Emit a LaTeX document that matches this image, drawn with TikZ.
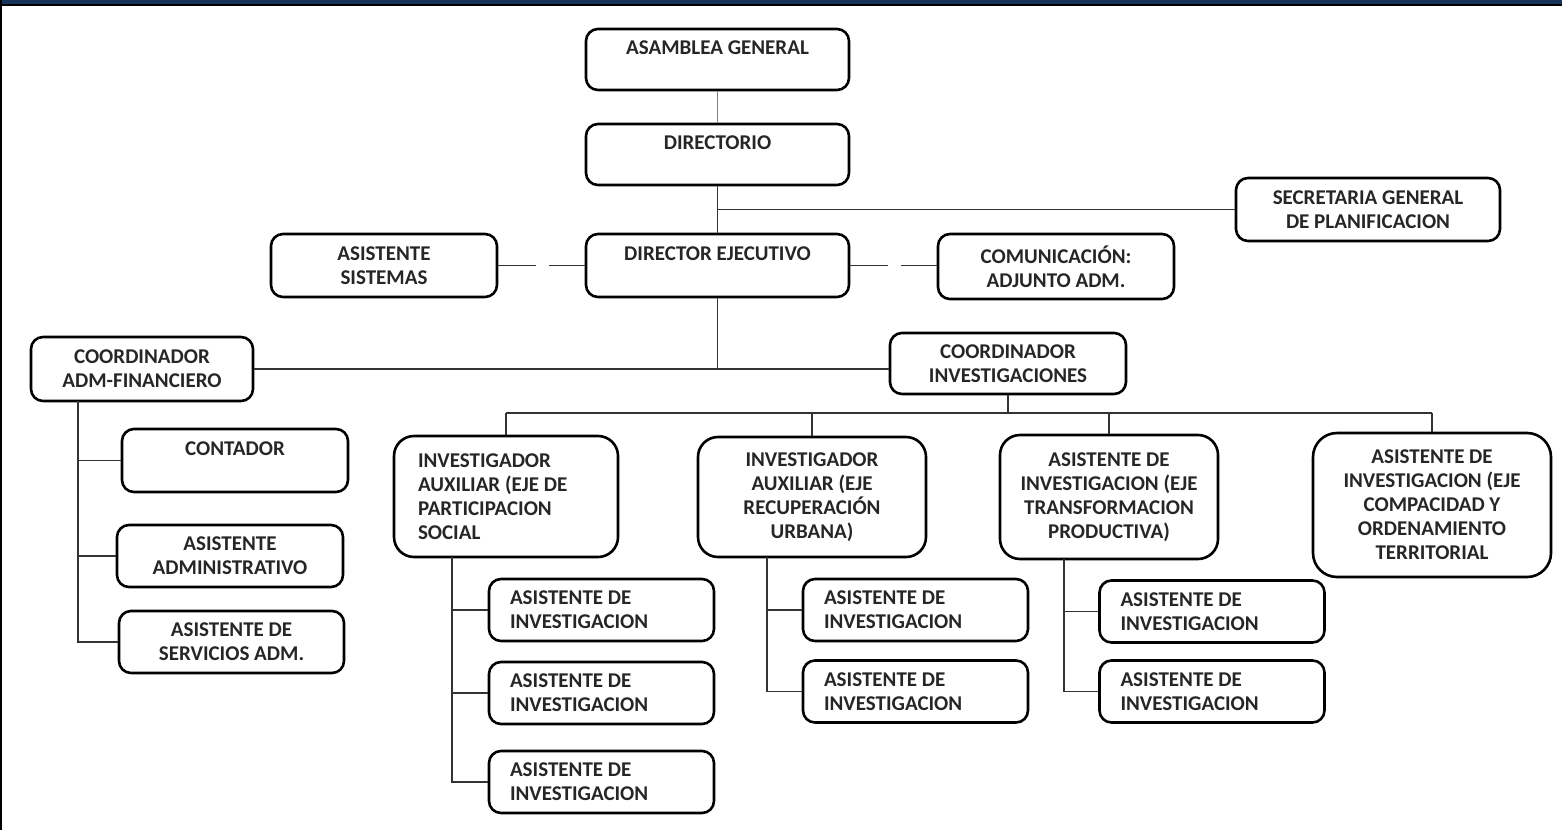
\documentclass[tikz,border=0pt]{standalone}
\usepackage{fontspec}
\newfontfamily\calibri{Carlito}
\definecolor{barra}{HTML}{17335A}
\definecolor{linea}{HTML}{333333}
\tikzset{
	caja/.style={draw, line width=1.3pt, rounded corners=6pt, align=center, inner sep=0pt,
		font=\calibri\bfseries\fontsize{10.5pt}{12pt}\selectfont, text=black!85},
	sub/.style={caja, align=flush left, inner xsep=10.5pt, text width=91.5pt, minimum height=31pt},
	une/.style={draw=linea, line width=0.8pt},
	guion/.style={une, dash pattern=on 19pt off 6.5pt}
}
\begin{document}
\begin{tikzpicture}[x=0.5pt, y=-0.5pt]
	\useasboundingbox (0,0) rectangle (1562,830);
	\fill[barra] (0,0) rectangle (1562,4);
	\fill[black] (0,4) rectangle (1562,6);
	\fill[black] (0,0) rectangle (2,830);

	\node (asam) at (717.5,59.5) [caja, minimum width=131.5pt, minimum height=30.5pt] {ASAMBLEA GENERAL\\ \mbox{}};
	\node (dirio) at (717.5,154.5) [caja, minimum width=131.5pt, minimum height=30.5pt] {DIRECTORIO\\ \mbox{}}
		edge [une, draw=gray] (asam);
	\node (secre) at (1368,209.5) [caja, minimum width=132pt, minimum height=31.5pt] {SECRETARIA GENERAL\\DE PLANIFICACION};
	\node (dire) at (717.5,265.5) [caja, minimum width=131.5pt, minimum height=31.5pt] {DIRECTOR EJECUTIVO\\ \mbox{}}
		edge [une] (dirio);
	\node (asis) at (384,265.5) [caja, minimum width=113pt, minimum height=31.5pt] {ASISTENTE\\SISTEMAS}
		edge [guion] (dire);
	\node (comu) at (1056,266.5) [caja, minimum width=118pt, minimum height=32.5pt] {COMUNICACIÓN:\\ADJUNTO ADM.};
	\node (cadm) at (142,369) [caja, minimum width=111pt, minimum height=32pt] {COORDINADOR\\ADM-FINANCIERO};
	\node (cinv) at (1008,363.5) [caja, minimum width=118pt, minimum height=30.5pt] {COORDINADOR\\INVESTIGACIONES};

	\node (conta) at (235,460.5) [caja, minimum width=113pt, minimum height=31.5pt] {CONTADOR\\ \mbox{}};
	\node (aadm) at (230,556) [caja, minimum width=113pt, minimum height=31pt] {ASISTENTE\\ADMINISTRATIVO};
	\node (aserv) at (231.5,642) [caja, minimum width=112.5pt, minimum height=31pt] {ASISTENTE DE\\SERVICIOS ADM.};

	\node (ipar) at (506,496.5) [caja, rounded corners=10pt, align=flush left, inner xsep=12pt, text width=88pt, minimum height=60.5pt] {INVESTIGADOR\\AUXILIAR (EJE DE\\PARTICIPACION\\SOCIAL};
	\node (irec) at (812,497) [caja, rounded corners=10pt, minimum width=114pt, minimum height=60pt] {INVESTIGADOR\\AUXILIAR (EJE\\RECUPERACIÓN\\URBANA)};
	\node (atra) at (1109,497) [caja, rounded corners=10pt, minimum width=109pt, minimum height=62pt] {ASISTENTE DE\\INVESTIGACION (EJE\\TRANSFORMACION\\PRODUCTIVA)};
	\node (acom) at (1432,505) [caja, rounded corners=12pt, minimum width=119pt, minimum height=72pt] {ASISTENTE DE\\INVESTIGACION (EJE\\COMPACIDAD Y\\ORDENAMIENTO\\TERRITORIAL};

	\node (p1) at (601.5,610) [sub] {ASISTENTE DE\\INVESTIGACION};
	\node (p2) at (601.5,693) [sub] {ASISTENTE DE\\INVESTIGACION};
	\node (p3) at (601.5,782) [sub] {ASISTENTE DE\\INVESTIGACION};
	\node (r1) at (915.5,610) [sub] {ASISTENTE DE\\INVESTIGACION};
	\node (r2) at (915.5,691.5) [sub] {ASISTENTE DE\\INVESTIGACION};
	\node (t1) at (1212,611.5) [sub] {ASISTENTE DE\\INVESTIGACION};
	\node (t2) at (1212,691.5) [sub] {ASISTENTE DE\\INVESTIGACION};

	\coordinate (bus) at (1010,413);
	\coordinate (ladm) at (78,401);
	\coordinate (lpar) at (452,557);
	\coordinate (lrec) at (767,557);
	\coordinate (ltra) at (1064,559);

	\draw[une] (secre.west) -- (secre.west -| dirio.south);
	\draw[guion] (dire.east) -- (dire.east -| comu.west);
	\draw[une] (dire.south) -- (dire.south |- cadm.east);
	\draw[une] (cadm.east) -- (cadm.east -| cinv.west);
	\draw[une] (cinv.south) -- (cinv.south |- bus);
	\draw[une] (ipar.north |- bus) -- (acom.north |- bus);
	\draw[une] (ipar.north |- bus) -- (ipar.north) (irec.north |- bus) -- (irec.north)
		(atra.north |- bus) -- (atra.north) (acom.north |- bus) -- (acom.north);
	\draw[une] (ladm) |- (conta) (ladm) |- (aadm) (ladm) |- (aserv);
	\draw[une] (lpar) |- (p1) (lpar) |- (p2) (lpar) |- (p3);
	\draw[une] (lrec) |- (r1) (lrec) |- (r2);
	\draw[une] (ltra) |- (t1) (ltra) |- (t2);
\end{tikzpicture}
\end{document}
